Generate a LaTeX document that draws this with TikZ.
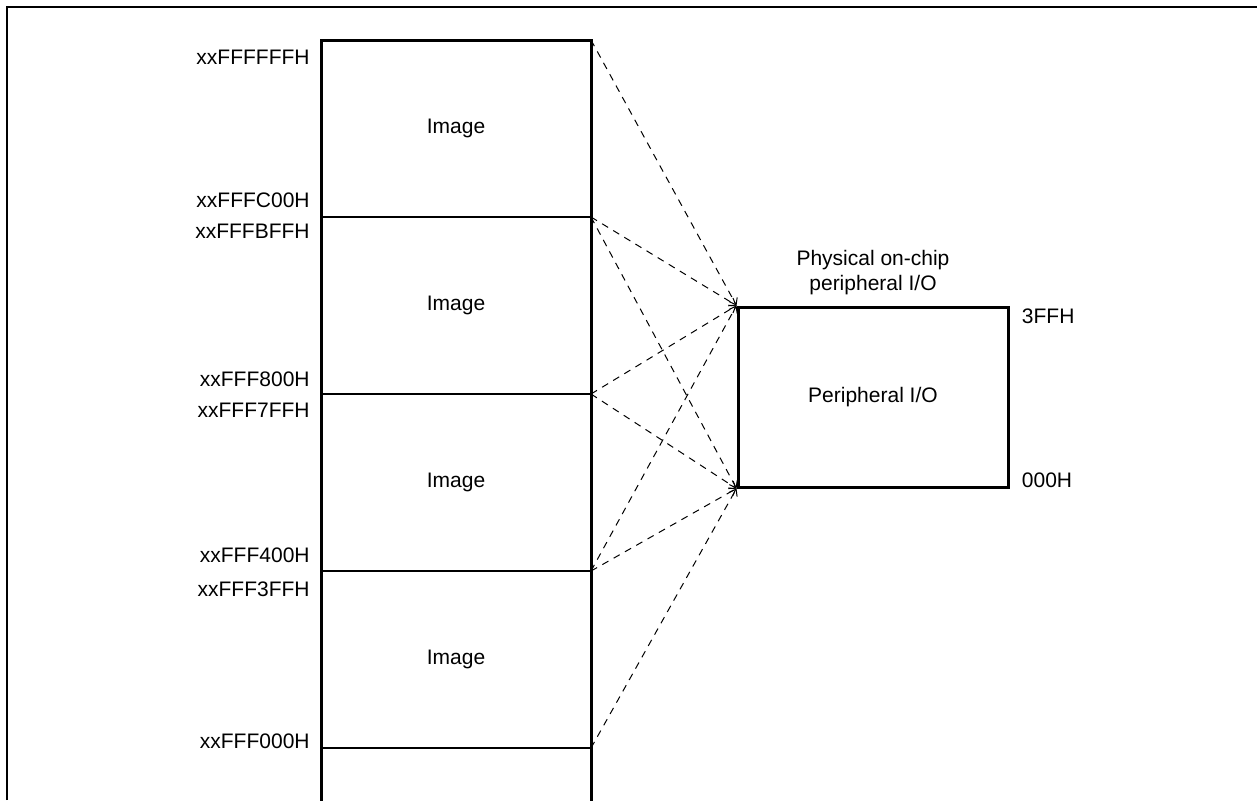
\documentclass[tikz,border=0pt]{standalone}
\usepackage{fontspec}
\setmainfont{Liberation Sans}
\usetikzlibrary{arrows.meta,positioning}

\begin{document}
\begin{tikzpicture}[
  x=0.5pt, y=-0.5pt,
  font=\fontsize{10.5}{12.5}\selectfont,
  node distance=0pt,
  block/.style={rectangle, inner sep=0pt, outer sep=0pt, minimum width=135pt, minimum height=88.5pt},
  periph/.style={rectangle, draw=black, line width=1.5pt, inner sep=0pt, minimum width=135pt, minimum height=90pt},
  addr/.style={inner sep=0pt, anchor=east},
  wall/.style={line width=1.5pt},
  divider/.style={line width=0.6pt},
  map/.style={dash pattern=on 3.5pt off 3pt, line width=0.5pt, -{Straight Barb[length=3pt,width=4.5pt]}}
]
\useasboundingbox (0,0) rectangle (1257,800);
\draw[line width=1pt] (7,800) -- (7,7) -- (1257,7);

\node[block] (img1) at (456,128.5) {Image};
\node[block, below=of img1] (img2) {Image};
\node[block, below=of img2] (img3) {Image};
\node[block, below=of img3] (img4) {Image};

\draw[wall] ([yshift=-27pt]img4.south west) -- (img1.north west) -- (img1.north east) -- ([yshift=-27pt]img4.south east);
\foreach \i in {1,...,4}
  \draw[divider] (img\i.south west) -- (img\i.south east);

\foreach \y/\t [count=\k] in {57/xxFFFFFFH, 200/xxFFFC00H, 231/xxFFFBFFH, 379/xxFFF800H, 410.5/xxFFF7FFH, 555.5/xxFFF400H, 589/xxFFF3FFH, 741/xxFFF000H}
  \node[addr] (addr\k) at (310,\y) {\t};

\node[periph] (io) at (873,397) {Peripheral I/O};
\node[align=center, inner sep=0pt, above=5pt of io] (iotitle) {Physical on-chip\\peripheral I/O};
\node[inner sep=0pt, anchor=north west] (iotop) at ([xshift=6pt,yshift=-1.5pt]io.north east) {3FFH};
\node[inner sep=0pt, anchor=south west] (iobot) at ([xshift=6pt]io.south east) {000H};

\draw[map] (img1.north east) -- (io.north west);
\foreach \i in {1,...,3}
  \draw[map] (img\i.south east) -- (io.north west);
\foreach \i in {1,...,4}
  \draw[map] (img\i.south east) -- (io.south west);
\end{tikzpicture}
\end{document}
